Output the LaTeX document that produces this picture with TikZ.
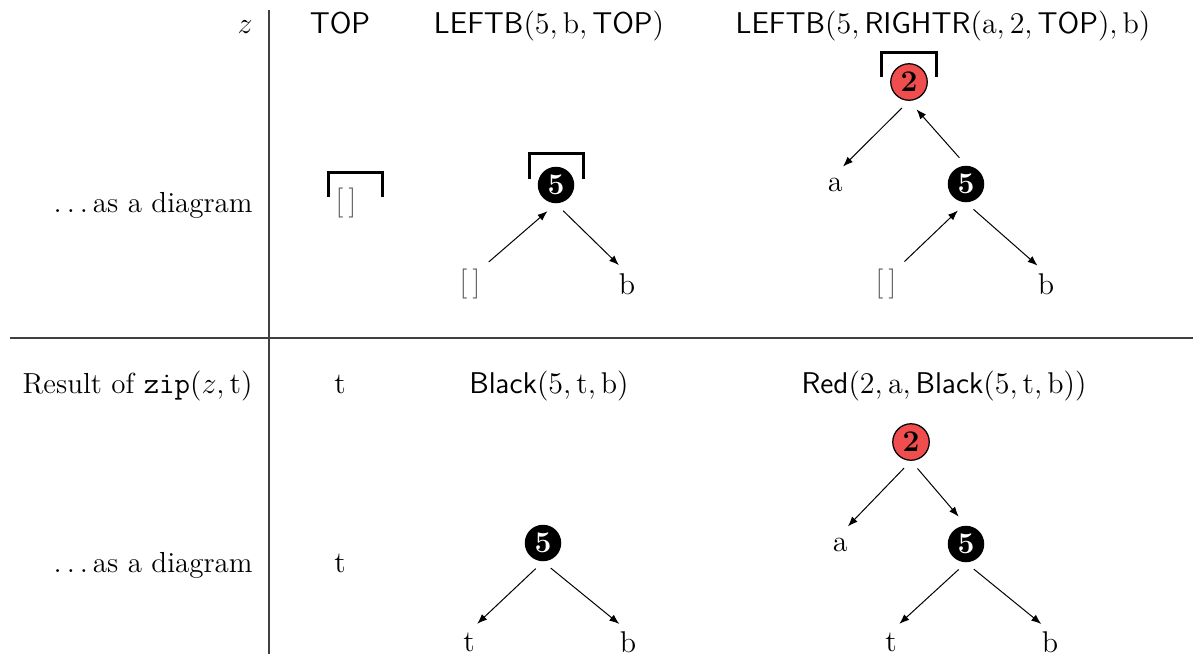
\documentclass[tikz,border=0pt]{standalone}
\usetikzlibrary{arrows.meta}

\definecolor{rbred}{RGB}{240,78,78}
\newcommand{\va}{\mathrm{a}}
\newcommand{\vb}{\mathrm{b}}
\newcommand{\vt}{\mathrm{t}}

\begin{document}
\begin{tikzpicture}[
  x=0.4pt, y=-0.4pt,
  every node/.style={font=\fontsize{11.6}{13}\selectfont},
  lbl/.style={anchor=base east, inner sep=0pt},
  cell/.style={anchor=base, inner sep=0pt},
  leaf/.style={inner sep=0pt, minimum height=8pt, minimum width=6pt},
  rbnode/.style={circle, inner sep=0pt, minimum size=14.6pt,
                 font=\fontsize{12}{13}\selectfont\bfseries},
  blk/.style={rbnode, fill=black, text=white},
  rd/.style={rbnode, draw=black, line width=0.5pt, fill=rbred, text=black},
  arr/.style={-{Latex[length=4pt,width=3pt]}, line width=0.4pt,
              shorten <=4pt, shorten >=4.5pt},
  focus/.style={line width=1.2pt, line cap=rect},
  rule/.style={line width=0.45pt, draw=black!75}
]
\useasboundingbox (0,0) rectangle (1193,654);

% table rules
\coordinate (vtop) at (269,10);
\coordinate (vbot) at (269,654);
\coordinate (hl) at (10,338);
\coordinate (hr) at (1193,338);
\draw[rule] (vtop) -- (vbot);
\draw[rule] (hl) -- (hr);

% ---- row 1: zipper values
\node[lbl]  (lz)  at (253,33) {$z$};
\node[cell] (z1)  at (340,33) {$\mathsf{TOP}$};
\node[cell] (z2)  at (549,33) {$\mathsf{LEFTB}(5, \vb, \mathsf{TOP})$};
\node[cell] (z3)  at (943,33) {$\mathsf{LEFTB}(5, \mathsf{RIGHTR}(\va, 2, \mathsf{TOP}), \vb)$};

% ---- row 2: zipper diagrams
\node[lbl] (ld1) at (253,212) {$\ldots$\,as a diagram};

% column 1
\node[leaf, text=black!65] (e1) at (346,203) {$[\,]$};
\draw[focus] ([shift={(-18,-8)}]e1.center) -- ++(0,-23) -- ++(54,0) -- ++(0,23);

% column 2
\node[blk]  (n5a) at (556,185) {5};
\node[leaf, text=black!65] (e2) at (470,284) {$[\,]$};
\node[leaf] (b2)  at (627,284) {$\vb$};
\draw[focus] ([shift={(-27,-8)}]n5a.center) -- ++(0,-24) -- ++(54,0) -- ++(0,24);
\draw[arr] (e2.north east) -- (n5a.south);
\draw[arr] (n5a.south) -- (b2.north);

% column 3
\node[rd]   (n2b) at (909,82) {2};
\node[leaf] (a3)  at (835,185) {$\va$};
\node[blk]  (n5b) at (966,184) {5};
\node[leaf, text=black!65] (e3) at (886,284) {$[\,]$};
\node[leaf] (b3)  at (1046,284) {$\vb$};
\draw[focus] ([shift={(-28,-7)}]n2b.center) -- ++(0,-23) -- ++(55,0) -- ++(0,23);
\draw[arr] (n2b.south) -- (a3.north);
\draw[arr] (n5b.north) -- (n2b.south);
\draw[arr] (e3.north east) -- (n5b.south);
\draw[arr] (n5b.south) -- (b3.north);

% ---- row 3: results
\node[lbl]  (lr)  at (253,393) {Result of $\mathtt{zip}(z, \vt)$};
\node[cell] (r1)  at (340,393) {$\vt$};
\node[cell] (r2)  at (549,393) {$\mathsf{Black}(5, \vt, \vb)$};
\node[cell] (r3)  at (944,393) {$\mathsf{Red}(2, \va, \mathsf{Black}(5, \vt, \vb))$};

% ---- row 4: result diagrams
\node[lbl]  (ld2) at (253,572) {$\ldots$\,as a diagram};
\node[cell] (t1)  at (340,572) {$\vt$};

% column 2
\node[blk]  (n5c) at (543,543) {5};
\node[leaf] (t2)  at (469,642) {$\vt$};
\node[leaf] (b4)  at (628,642) {$\vb$};
\draw[arr] (n5c.south) -- (t2.north);
\draw[arr] (n5c.south) -- (b4.north);

% column 3
\node[rd]   (n2d) at (911,442) {2};
\node[leaf] (a5)  at (840,545) {$\va$};
\node[blk]  (n5d) at (966,544) {5};
\node[leaf] (t5)  at (891,642) {$\vt$};
\node[leaf] (b5)  at (1050,642) {$\vb$};
\draw[arr] (n2d.south) -- (a5.north);
\draw[arr] (n2d.south) -- (n5d.north);
\draw[arr] (n5d.south) -- (t5.north);
\draw[arr] (n5d.south) -- (b5.north);
\end{tikzpicture}
\end{document}
